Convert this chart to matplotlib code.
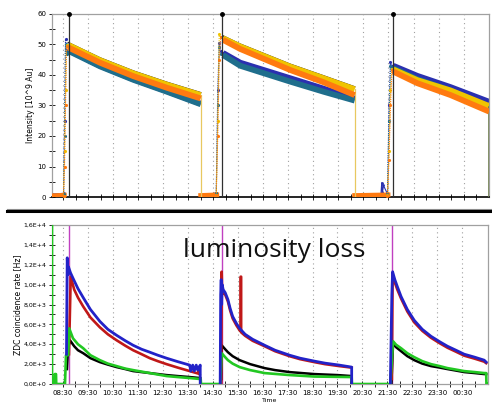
import matplotlib.pyplot as plt
from matplotlib.lines import Line2D
import numpy as np

# time axis: hours after 08:00
tick_pos = [0.5 + i for i in range(17)]
tick_lbl = ['08:30', '09:30', '10:30', '11:30', '12:30', '13:30', '14:30', '15:30', '16:30',
            '17:30', '18:30', '19:30', '20:30', '21:30', '22:30', '23:30', '00:30']
inj_t = [0.74, 6.86, 13.69]

# ---- top panel: beam intensity [10^9 Au] ----
dec_t = [[0.71, 1.98, 3.31, 4.65, 6.00],
         [6.89, 7.58, 9.58, 10.91, 12.15],
         [13.69, 14.65, 15.98, 17.52]]
yellow_i = [[49.8, 44.8, 40.5, 36.8, 33.4], [52.0, 49.3, 42.7, 38.9, 35.3], [41.8, 38.3, 34.9, 29.8]]
orange_i = [[49.0, 44.0, 39.6, 35.8, 32.3], [51.5, 48.5, 41.6, 37.6, 33.4], [41.1, 37.3, 33.4, 28.0]]
teal_i = [[47.9, 42.8, 38.4, 34.5, 30.4], [46.5, 43.0, 37.8, 34.5, 31.6], [42.2, 38.6, 34.9, 29.4]]
blue_i = [[48.1, 43.0, 38.6, 34.7, 30.6], [47.2, 44.0, 38.9, 35.5, 32.2], [43.0, 39.7, 36.0, 31.2]]
black_i = [[50.6, 45.6, 41.3, 37.6, 34.2], [52.8, 50.1, 43.5, 39.7, 36.1]]

ramp_t = [[0.52, 0.56, 0.60, 0.64], [6.62, 6.68, 6.74, 6.80], [13.46, 13.52, 13.58, 13.64]]
yellow_r = [[0.5, 15, 35, 49.8], [0.8, 25, 53.3, 52.5], [0.6, 15, 35, 42.0]]
orange_r = [[0.4, 10, 30, 49.5], [0.6, 20, 45, 52.5], [0.5, 12, 30, 41.5]]
teal_r = [[1.0, 20, 50.0, 47.0], [1.2, 30, 49.0, 47.0], [1.0, 25, 43.0, 42.5]]
blue_r = [[1.0, 25, 51.7, 48.0], [1.4, 35, 50.5, 48.0], [1.0, 30, 44.4, 43.0]]

orange_base_t = [[0.06, 0.55], [6.00, 6.64], [12.15, 13.48]]
orange_base = [[0.4, 0.6], [0.5, 0.7], [0.5, 0.7]]
blue_base_t = [[0.06, 0.52], [6.30, 6.62], [12.50, 13.20, 13.23, 13.26, 13.30, 13.46]]
blue_base = [[1.0, 1.2], [0.8, 1.4], [0.8, 1.0, 4.7, 1.5, 3.8, 1.0]]

# ---- bottom panel: ZDC coincidence rate [Hz] ----
blue_t = [[0.64, 0.67, 0.70, 0.72, 0.80, 0.91, 1.10, 1.31, 1.60, 1.98, 2.30, 2.65, 3.00, 3.31, 3.65,
           3.98, 4.30, 4.65, 5.10, 5.58, 5.62, 5.70, 5.76, 5.84, 5.90, 6.00, 6.00],
          [6.80, 6.82, 6.84, 6.86, 6.88, 6.92, 7.00, 7.11, 7.20, 7.30, 7.45, 7.58, 7.80, 8.10, 8.58,
           9.00, 9.58, 10.00, 10.58, 11.00, 11.58, 12.07, 12.07],
          [13.62, 13.68, 13.71, 13.80, 13.90, 14.05, 14.30, 14.58, 14.90, 15.25, 15.60, 15.91, 16.25,
           16.58, 17.00, 17.38, 17.46]]
blue_v = [[3000, 12700, 11000, 11800, 11200, 10600, 9600, 8700, 7500, 6300, 5500, 4900, 4350, 3900, 3500,
           3200, 2900, 2600, 2250, 1900, 1300, 1900, 1300, 1900, 1400, 1900, 0],
          [0, 9000, 10500, 8000, 10000, 9500, 9200, 8500, 7600, 6800, 6100, 5600, 5000, 4500, 3900,
           3400, 2900, 2600, 2300, 2100, 1900, 1700, 0],
          [0, 9000, 11300, 10500, 9800, 8800, 7500, 6400, 5500, 4800, 4250, 3800, 3400,
           3000, 2700, 2400, 2200]]
red_t = [[0.74, 0.81, 0.95, 1.10, 1.31, 1.60, 1.98, 2.30, 2.65, 3.00, 3.31, 3.65, 3.98, 4.30, 4.65,
          5.10, 5.58, 5.92, 5.94, 5.98],
         [6.84, 6.86, 6.88, 6.92, 7.00, 7.11, 7.20, 7.30, 7.45, 7.58, 7.62, 7.62, 7.64, 7.64, 7.80,
          8.10, 8.58, 9.00, 9.58, 10.00, 10.58, 11.00, 11.58, 12.07],
         [13.68, 13.71, 13.80, 13.90, 14.05, 14.30, 14.58, 14.90, 15.25, 15.60, 15.91, 16.25, 16.58,
          17.00, 17.38, 17.46]]
red_v = [[3000, 10800, 9500, 8700, 7800, 6700, 5700, 5000, 4400, 3850, 3400, 3000, 2600, 2300, 2000,
          1650, 1300, 1050, 1600, 1000],
         [0, 11300, 9000, 9300, 9000, 8300, 7400, 6600, 5900, 5400, 5300, 10800, 10800, 5200, 4850,
          4350, 3800, 3300, 2800, 2500, 2200, 2000, 1800, 1650],
         [500, 11000, 10200, 9500, 8600, 7300, 6200, 5350, 4650, 4100, 3650, 3250, 2850,
          2550, 2250, 2100]]
black_t = [[0.66, 0.70, 0.78, 0.95, 1.10, 1.31, 1.60, 1.98, 2.30, 2.65, 3.00, 3.31, 3.98, 4.65, 5.10,
            5.58, 6.00],
           [6.84, 6.86, 7.00, 7.11, 7.30, 7.58, 8.00, 8.58, 9.00, 9.58, 10.58, 11.50, 12.07, 12.07],
           [13.66, 13.73, 13.85, 14.05, 14.30, 14.58, 14.90, 15.25, 15.60, 15.91, 16.25, 16.58, 17.00,
            17.38, 17.46]]
black_v = [[1500, 3500, 4400, 3800, 3400, 3100, 2600, 2200, 1950, 1700, 1500, 1300, 1100, 900, 800,
            700, 600],
           [500, 3900, 3500, 3200, 2800, 2400, 2000, 1600, 1400, 1200, 1000, 900, 800, 0],
           [0, 4100, 3700, 3300, 2800, 2400, 2050, 1800, 1650, 1500, 1350, 1200, 1100,
            1000, 1000]]
green_t = [0.06, 0.06, 0.16, 0.17, 0.22, 0.23, 0.58, 0.62, 0.71, 0.75, 0.90, 1.10, 1.31, 1.60, 1.98,
           2.30, 2.65, 3.00, 3.31, 3.98, 4.65, 5.10, 5.58, 6.02, 6.03,
           6.80, 6.86, 7.00, 7.11, 7.30, 7.58, 8.00, 8.58, 9.58, 10.58, 12.07, 12.08,
           13.62, 13.73, 13.85, 14.05, 14.30, 14.58, 14.90, 15.25, 15.60, 15.91, 16.25, 16.58,
           17.00, 17.38, 17.46, 17.47, 17.52]
green_v = [17000, 0, 0, 1000, 1000, 0, 0, 2900, 2900, 5600, 4600, 4000, 3600, 2900, 2400,
           2050, 1800, 1550, 1400, 1100, 800, 700, 600, 500, 0,
           0, 3100, 2700, 2400, 2050, 1700, 1400, 1100, 900, 750, 700, 0,
           0, 4300, 3950, 3600, 3100, 2700, 2300, 2000, 1800, 1600, 1450, 1300,
           1200, 1100, 1100, 0, 0]

rate_ticks = [0, 2000, 4000, 6000, 8000, 10000, 12000, 14000, 16000]
rate_lbl = ['0,0E+0', '2,0E+3', '4,0E+3', '6,0E+3', '8,0E+3', '1,0E+4', '1,2E+4', '1,4E+4', '1,6E+4']

plt.rcParams['font.family'] = 'DejaVu Sans'
fig = plt.figure(figsize=(4.92, 4.08), dpi=100)
ax1 = fig.add_axes([0.1057, 0.517, 0.889, 0.449])
ax2 = fig.add_axes([0.1057, 0.0588, 0.886, 0.3897])

for ax in (ax1, ax2):
    for s in ax.spines.values():
        s.set_color('#a0a0a0')
        s.set_linewidth(0.9)
    ax.set_xticks(tick_pos)
    ax.set_xticks([i + 1.0 for i in range(17)], minor=True)
    ax.grid(axis='x', which='major', linestyle=(0, (1, 3)), color='#a0a0a0', lw=0.8)
    ax.tick_params(which='both', direction='inout', length=4, width=0.6, labelsize=5, pad=2)
    ax.set_xlim(0.06, 17.53)

# top panel
ax1.spines['bottom'].set_color('black')
ax1.spines['bottom'].set_linewidth(1.2)
ax1.set_ylim(0, 60)
ax1.set_yticks(range(0, 61, 10))
ax1.set_yticks(range(5, 60, 10), minor=True)
ax1.tick_params(axis='x', labelbottom=False)
ax1.set_ylabel('Intensity [10^9 Au]', fontsize=5.5, labelpad=2)

for k in range(3):
    ax1.plot(orange_base_t[k], orange_base[k], color='#ff7a10', lw=3.5, zorder=3)
    ax1.plot(blue_base_t[k], blue_base[k], color='#2a30b0', lw=0.8, marker='.', ms=2, zorder=2)

series = [('#2a30b0', blue_i, blue_r, 2), ('#1f6e8c', teal_i, teal_r, 3),
          ('#f0c400', yellow_i, yellow_r, 4), ('#ff7a10', orange_i, orange_r, 5)]
for k in range(2):
    ax1.plot(dec_t[k], black_i[k], color='#222222', lw=1.0, zorder=3.5)
for color, dec, ramp, z in series:
    for k in range(3):
        ax1.plot(ramp_t[k] + [dec_t[k][0]], ramp[k] + [dec[k][0]], color=color, lw=0.8,
                 ls=(0, (1, 1)), marker='.', ms=2.5, zorder=z)
        ax1.plot(dec_t[k], dec[k], color=color, lw=4.2, solid_capstyle='butt', zorder=z)
for k in range(2):
    ax1.plot([dec_t[k][-1]] * 2, [yellow_i[k][-1], 0], color='#e8c860', lw=0.9, zorder=4)
ax1.plot([dec_t[2][-1]] * 2, [teal_i[2][-1], 0], color='#6f7f4f', lw=1.2, zorder=4)
for t in inj_t:
    ax1.plot([t, t], [0, 60], color='#303030', lw=0.9, zorder=6)
    ax1.plot([t], [60], 'o', color='black', ms=2.5, clip_on=False, zorder=7)

# bottom panel
ax2.set_ylim(0, 16000)
ax2.set_yticks(rate_ticks)
ax2.set_yticklabels(rate_lbl)
ax2.set_yticks([1000 + 2000 * i for i in range(8)], minor=True)
ax2.tick_params(axis='y', labelsize=4.5)
ax2.set_xticklabels(tick_lbl)
ax2.set_ylabel('ZDC coincidence rate [Hz]', fontsize=5.5, labelpad=1)
ax2.set_xlabel('Time', fontsize=4.5, labelpad=2)

for t in inj_t:
    ax2.axvline(t, color='#c040c0', lw=1.0, zorder=1.5)
for k in range(3):
    ax2.plot(black_t[k], black_v[k], color='black', lw=1.8, zorder=3)
    ax2.plot(red_t[k], red_v[k], color='#c01818', lw=1.9, zorder=4)
    ax2.plot(blue_t[k], blue_v[k], color='#2222c8', lw=2.0, zorder=5)
ax2.plot(green_t, green_v, color='#22c822', lw=1.9, zorder=4.5)

fig.text(0.372, 0.37, 'luminosity loss', fontsize=19, family='Open Sans', color='#111111',
         va='baseline', ha='left')

# separator between the two panels
fig.add_artist(Line2D([0.014, 1.0], [0.4877, 0.4877], transform=fig.transFigure, color='#909090', lw=0.8))
fig.add_artist(Line2D([0.014, 1.0], [0.4828, 0.4828], transform=fig.transFigure, color='black', lw=2.2))

fig.savefig('out.png', dpi=100)
